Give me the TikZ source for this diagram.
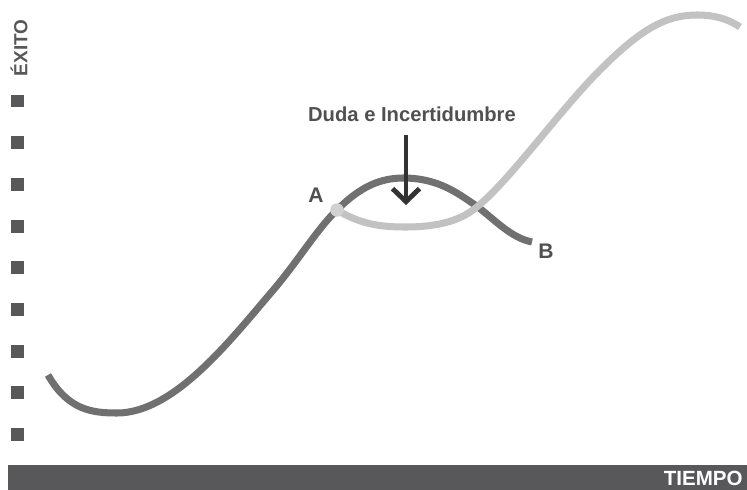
\documentclass[tikz,border=0pt]{standalone}
\usepackage{fontspec}
\setmainfont{Liberation Sans}
\usetikzlibrary{arrows.meta}

\definecolor{bardark}{HTML}{58585A}
\definecolor{curvedark}{HTML}{707070}
\definecolor{curvelight}{HTML}{C2C2C2}
\definecolor{labelgray}{HTML}{505050}

\begin{document}
\begin{tikzpicture}[
  x=0.02cm, y=-0.02cm,
  tick/.style={fill=bardark, minimum size=0.26cm, inner sep=0pt},
  label/.style={text=labelgray, font=\fontsize{12}{14}\selectfont\bfseries, inner sep=0pt},
  curve/.style={line width=4pt, line cap=butt},
  line/.style={-{Straight Barb[length=2.6mm, width=5.4mm]}, line width=2.8pt, draw=black!80}
]
\useasboundingbox (0,0) rectangle (747,490);

% Axis bar and labels
\fill[bardark] (8,465) rectangle (747,490);
\node[text=white, font=\fontsize{11.7}{13}\selectfont\bfseries, anchor=east, inner sep=0pt] (tiempo) at (743,478) {TIEMPO};
\node[text=bardark, font=\fontsize{10.8}{12}\selectfont\bfseries, rotate=90, inner sep=0pt] (exito) at (19,48) {ÉXITO};

% Ticks
\foreach \i in {0,...,8}
  \node[tick] (t\i) at (17.5,{101+41.7*\i}) {};

% Curves
\draw[curve, draw=curvedark] (48,375) .. controls (68,410) and (92,413) .. (117,413)
  .. controls (175,413) and (232,338) .. (275,288)
  .. controls (300,258) and (318,228) .. (337,210)
  .. controls (355,192) and (375,178) .. (403,178)
  .. controls (440,178) and (460,195) .. (478,207)
  .. controls (497,222) and (512,238) .. (532,242);
\draw[curve, draw=curvelight] (337,210) .. controls (360,224) and (380,227) .. (405,227)
  .. controls (440,227) and (462,220) .. (478,206)
  .. controls (510,180) and (560,110) .. (600,70)
  .. controls (640,30) and (665,15) .. (697,15)
  .. controls (715,15) and (728,19) .. (740,27);

% Points
\node[circle, fill=black!18, minimum size=0.27cm, inner sep=0pt] (a) at (337,210) {};
\node[label] (alabel) at (316,195) {A};
\node[label] (blabel) at (546,251) {B};

% Arrow
\node[label, font=\fontsize{11.5}{14}\selectfont\bfseries] (duda) at (412,114) {Duda e Incertidumbre};
\coordinate (top) at (406,135);
\coordinate (tip) at (406,205);
\draw[line] (top) -- (tip);
\end{tikzpicture}
\end{document}
